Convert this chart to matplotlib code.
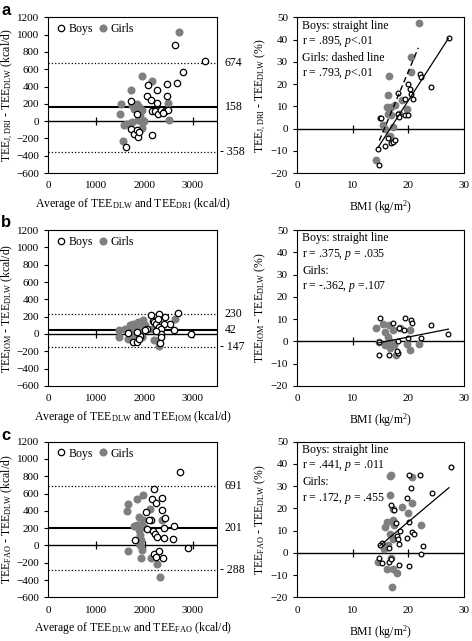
import matplotlib
matplotlib.use('Agg')
import matplotlib.pyplot as plt
import matplotlib.transforms as mtransforms

plt.rcParams['font.family'] = 'Liberation Serif'
plt.rcParams['mathtext.fontset'] = 'custom'
plt.rcParams['mathtext.rm'] = 'Liberation Serif'
plt.rcParams['mathtext.it'] = 'Liberation Serif:italic'
plt.rcParams['font.size'] = 8

GRAY = '#7f7f7f'

# ---- panel a : TEE J,DRI ----
boys_avg_a = [2632, 3251, 2797, 2674, 2455, 2071, 2253, 2038, 2455, 1724, 2127, 2253, 2142, 2211,
              2267, 2336, 2405, 2476, 2371, 1835, 1710, 1779, 1863, 1850, 1883, 2148, 1620]
boys_diff_a = [881, 693, 563, 444, 425, 414, 361, 293, 293, 237, 248, 207, 116, 113,
               87, 124, 105, 132, 94, 87, -94, -147, -188, -102, -124, -158, -293]
girls_avg_a = [2701, 1946, 2142, 1724, 1516, 1488, 2476, 2503, 1835, 1883, 1779, 1954, 1904, 1863,
               1988, 1919, 1745, 1626, 1570, 1954, 1557, 1731]
girls_diff_a = [1027, 519, 463, 358, 200, 87, 214, 11, 200, 161, 143, 132, 68, 19,
                3, 0, -15, -34, -45, -83, -233, 192]
mean_a, upper_a, lower_a = 158, 674, -358

boys_bmi_a = [27.3, 22.1, 22.3, 24.1, 20.0, 20.3, 20.4, 20.9, 19.5, 18.2, 19.5, 20.0, 18.1, 18.4,
              14.9, 15.1, 16.4, 15.8, 16.9, 17.3, 17.7, 14.6, 14.8]
boys_pct_a = [40.8, 24.7, 23.2, 18.8, 20.2, 17.9, 15.7, 13.4, 13.4, 16.0, 5.9, 5.9, 6.6, 5.1,
              4.8, 4.7, -4.4, -7.7, -6.6, -5.9, -5.0, -9.2, -16.4]
girls_bmi_a = [21.9, 20.4, 16.6, 20.4, 16.3, 16.1, 16.9, 17.7, 16.3, 16.9, 15.4, 15.8, 17.2, 16.7,
               18.9, 19.8, 18.4, 14.2]
girls_pct_a = [47.3, 32.2, 23.6, 25.5, 15.2, 9.6, 9.6, 10.4, 6.6, 5.9, 1.4, -0.2, 0.6, -3.2,
               12.7, 8.9, 6.6, -14.0]
boys_fit_a = ([14.6, 27.2], [-8.4, 40.5])
girls_fit_a = ([14.8, 21.8], [-5.4, 36.3])

# ---- panel b : TEE IOM ----
boys_avg_b = [2690, 2300, 2130, 2430, 2170, 2200, 2240, 2280, 2520, 2400, 2300, 2330, 2600, 2050,
              2000, 2330, 2340, 2320, 1650, 1760, 1840, 1900, 1850, 2960, 2230, 1880]
boys_diff_b = [245, 235, 215, 195, 150, 135, 110, 175, 120, 110, 80, 60, 45, 55,
               40, 5, -40, -100, 15, -95, -90, -20, 25, -5, 30, -60]
girls_avg_b = [1470, 1470, 1600, 1650, 1700, 1750, 1780, 1800, 1820, 1860, 1900, 1960, 2000, 1950,
               1780, 1720, 2200, 2300, 2620, 2320, 1870, 1900, 2150, 1740]
girls_diff_b = [45, -35, 60, -60, 100, 120, 90, 40, -10, 140, 80, 160, 100, -30,
                -40, 10, -70, -140, 175, 30, 10, 120, 60, -10]
mean_b, upper_b, lower_b = 42, 230, -147

boys_bmi_b = [14.9, 19.4, 20.4, 20.7, 24.0, 27.2, 22.2, 20.0, 18.4, 19.3, 17.3, 18.1, 14.8, 16.6,
              18.1, 17.9, 14.8]
boys_pct_b = [10.7, 10.7, 9.8, 8.3, 7.3, 3.5, 1.7, 1.3, 6.2, 5.0, 8.3, 0.2, -5.9, -5.9,
              -5.2, -4.3, -0.2]
girls_bmi_b = [14.2, 15.4, 16.6, 17.2, 15.8, 16.3, 16.9, 17.5, 18.6, 20.3, 19.7, 21.9, 20.3, 17.8,
               15.8, 16.7, 14.8]
girls_pct_b = [6.2, 7.7, 7.3, 5.0, 4.3, 2.0, -0.2, -1.7, 5.8, 5.3, -1.0, -1.0, -4.0, -6.2,
               -1.7, -3.2, -0.2]
boys_fit_b = ([14.6, 27.2], [-0.7, 5.5])

# ---- panel c : TEE FAO ----
boys_avg_c = [2725, 2185, 2351, 2153, 2225, 2364, 2020, 2417, 2125, 2603, 2404, 2040, 2173, 2219,
              2258, 2404, 2590, 1795, 2901, 2193, 2292, 2239, 2372, 2085]
boys_diff_c = [845, 650, 553, 541, 495, 413, 390, 313, 290, 228, 204, 193, 163, 128,
               96, 88, 73, 65, -28, -98, -58, -128, -144, 300]
girls_avg_c = [1960, 1841, 1648, 1642, 2119, 1875, 1960, 2358, 1841, 1787, 1940, 1986, 1887, 1907,
               1926, 1894, 1940, 1648, 1926, 2139, 2252, 2312]
girls_diff_c = [581, 541, 476, 398, 418, 329, 297, 290, 232, 221, 232, 213, 174, 116,
                58, 0, -51, -66, -147, -147, -214, -368]
mean_c, upper_c, lower_c = 201, 691, -288

boys_bmi_c = [27.6, 20.1, 22.1, 20.4, 24.2, 19.7, 16.9, 17.5, 17.8, 20.1, 18.6, 20.7, 21.0, 18.0,
              19.8, 18.2, 18.3, 15.2, 14.9, 16.6, 22.7, 22.3, 14.8, 16.6, 15.2, 18.3, 20.1, 16.9]
boys_pct_c = [38.5, 34.8, 34.8, 29.1, 26.9, 24.7, 21.4, 19.2, 13.5, 14.0, 9.9, 9.5, 8.7, 7.6,
              6.5, 6.1, 4.0, 4.6, 3.5, 2.0, 3.1, -0.6, -2.4, -4.1, -4.7, -5.4, -5.7, -2.9]
girls_bmi_c = [16.7, 16.9, 20.6, 16.7, 18.9, 17.2, 19.9, 20.6, 16.1, 17.2, 15.8, 17.5, 22.2, 16.7,
               17.2, 16.3, 15.7, 14.5, 16.1, 17.2, 18.0, 17.0, 16.9]
girls_pct_c = [34.4, 34.8, 34.1, 25.9, 20.6, 19.9, 18.0, 22.5, 13.9, 15.0, 11.8, 12.5, 12.5, 8.7,
               6.1, 3.5, 1.6, -4.2, -7.4, -7.4, -9.1, -15.1, -2.4]
boys_fit_c = ([14.9, 27.3], [3.2, 29.3])

avg_ticks = [0, 1000, 2000, 3000]
diff_ticks = list(range(-600, 1201, 200))
bmi_ticks = [0, 10, 20, 30]
pct_ticks = list(range(-20, 51, 10))


def scatter_pair(ax, bx, by, gx, gy, ms_boys, ms_girls):
    ax.plot(gx, gy, 'o', color=GRAY, ms=ms_girls, mec=GRAY, label='Girls', zorder=3)
    ax.plot(bx, by, 'o', mfc='white', mec='black', mew=0.9, ms=ms_boys, label='Boys', zorder=4)


def bland_altman(ax, bx, by, gx, gy, mean, upper, lower, sub):
    ax.axhline(0, color='black', lw=1.0, zorder=2)
    ax.plot([t for t in avg_ticks if t > 0], [0] * 3, ls='none', marker='|',
            color='black', ms=6, mew=0.9, zorder=2)
    ax.axhline(mean, color='black', lw=1.5, zorder=2)
    ax.axhline(upper, color='black', lw=0.9, ls=':', zorder=2)
    ax.axhline(lower, color='black', lw=0.9, ls=':', zorder=2)
    scatter_pair(ax, bx, by, gx, gy, 4.6, 4.8)
    ax.set_xlim(0, 3500)
    ax.set_ylim(-600, 1200)
    ax.set_xticks(avg_ticks)
    ax.set_yticks(diff_ticks)
    ax.tick_params(axis='x', length=0, pad=6)
    ax.tick_params(axis='y', length=3, direction='out')
    trans = mtransforms.blended_transform_factory(ax.transAxes, ax.transData)
    for v, s in [(upper, str(upper)), (mean, str(mean)), (lower, '- %d' % abs(lower))]:
        ax.text(1.045 if v >= 0 else 1.018, v, s, transform=trans, ha='left', va='center',
                fontsize=8.5, clip_on=False)
    h, l = ax.get_legend_handles_labels()
    ax.legend(h[::-1], l[::-1], loc='upper left', ncol=2, frameon=False, fontsize=8.5,
              handletextpad=0.0, columnspacing=0.3, handlelength=1.2,
              borderaxespad=0.2, borderpad=0.3)
    ax.set_xlabel('Average of TEE$_{\\mathrm{DLW}}$ and TEE$_{\\mathrm{%s}}$ (kcal/d)' % sub,
                  fontsize=8.5, labelpad=4)


def bmi_panel(ax, bx, by, gx, gy, ylab, boys_txt, girls_txt, boys_fit, girls_fit=None):
    ax.axhline(0, color='black', lw=1.0, zorder=2)
    ax.plot([10, 20], [0, 0], ls='none', marker='|', color='black', ms=6, mew=0.9, zorder=2)
    scatter_pair(ax, bx, by, gx, gy, 3.4, 4.6)
    ax.plot(boys_fit[0], boys_fit[1], color='black', lw=0.9, zorder=5)
    if girls_fit is not None:
        ax.plot(girls_fit[0], girls_fit[1], color='black', lw=1.0, ls=(0, (4, 2.5)), zorder=5)
    ax.set_xlim(0, 30)
    ax.set_ylim(-20, 50)
    ax.set_xticks(bmi_ticks)
    ax.set_yticks(pct_ticks)
    ax.tick_params(axis='x', length=0, pad=6)
    ax.tick_params(axis='y', length=3, direction='out')
    ax.text(1.0, 49, boys_txt, ha='left', va='top', fontsize=8.5, linespacing=1.25)
    ax.text(1.0, 34.5, girls_txt, ha='left', va='top', fontsize=8.5, linespacing=1.25)
    ax.set_xlabel('BMI (kg/m$^{2}$)', fontsize=8.5, labelpad=6)
    ax.set_ylabel(ylab, fontsize=8.5, labelpad=2)


fig = plt.figure(figsize=(4.72, 6.41), dpi=100)
bottoms = [0.730, 0.398, 0.068]
left_axes = [fig.add_axes([0.102, b, 0.358, 0.243]) for b in bottoms]
right_axes = [fig.add_axes([0.629, b, 0.354, 0.243]) for b in bottoms]

bland_altman(left_axes[0], boys_avg_a, boys_diff_a, girls_avg_a, girls_diff_a,
             mean_a, upper_a, lower_a, 'DRI')
left_axes[0].set_ylabel('TEE$_{\\mathrm{J,DRI}}$ - TEE$_{\\mathrm{DLW}}$ (kcal/d)', fontsize=8.5, labelpad=1)
bland_altman(left_axes[1], boys_avg_b, boys_diff_b, girls_avg_b, girls_diff_b,
             mean_b, upper_b, lower_b, 'IOM')
left_axes[1].set_ylabel('TEE$_{\\mathrm{IOM}}$ - TEE$_{\\mathrm{DLW}}$ (kcal/d)', fontsize=8.5, labelpad=1)
bland_altman(left_axes[2], boys_avg_c, boys_diff_c, girls_avg_c, girls_diff_c,
             mean_c, upper_c, lower_c, 'FAO')
left_axes[2].set_ylabel('TEE$_{\\mathrm{FAO}}$ - TEE$_{\\mathrm{DLW}}$ (kcal/d)', fontsize=8.5, labelpad=1)

bmi_panel(right_axes[0], boys_bmi_a, boys_pct_a, girls_bmi_a, girls_pct_a,
          'TEE$_{\\mathrm{J,DRI}}$ - TEE$_{\\mathrm{DLW}}$ (%)',
          'Boys: straight line\nr = .895, $p$<.01', 'Girls: dashed line\nr = .793, $p$<.01',
          boys_fit_a, girls_fit_a)
bmi_panel(right_axes[1], boys_bmi_b, boys_pct_b, girls_bmi_b, girls_pct_b,
          'TEE$_{\\mathrm{IOM}}$ - TEE$_{\\mathrm{DLW}}$ (%)',
          'Boys: straight line\nr = .375, $p$ = .035', 'Girls:\nr = -.362, $p$ =.107',
          boys_fit_b)
bmi_panel(right_axes[2], boys_bmi_c, boys_pct_c, girls_bmi_c, girls_pct_c,
          'TEE$_{\\mathrm{FAO}}$ - TEE$_{\\mathrm{DLW}}$ (%)',
          'Boys: straight line\nr = .441, $p$ = .011', 'Girls:\nr = .172, $p$ = .455',
          boys_fit_c)

for letter, y in zip('abc', [0.995, 0.665, 0.333]):
    fig.text(0.003, y, letter, fontsize=12, fontweight='bold', family='Liberation Sans',
             ha='left', va='top')

fig.savefig('out.png', dpi=100)
